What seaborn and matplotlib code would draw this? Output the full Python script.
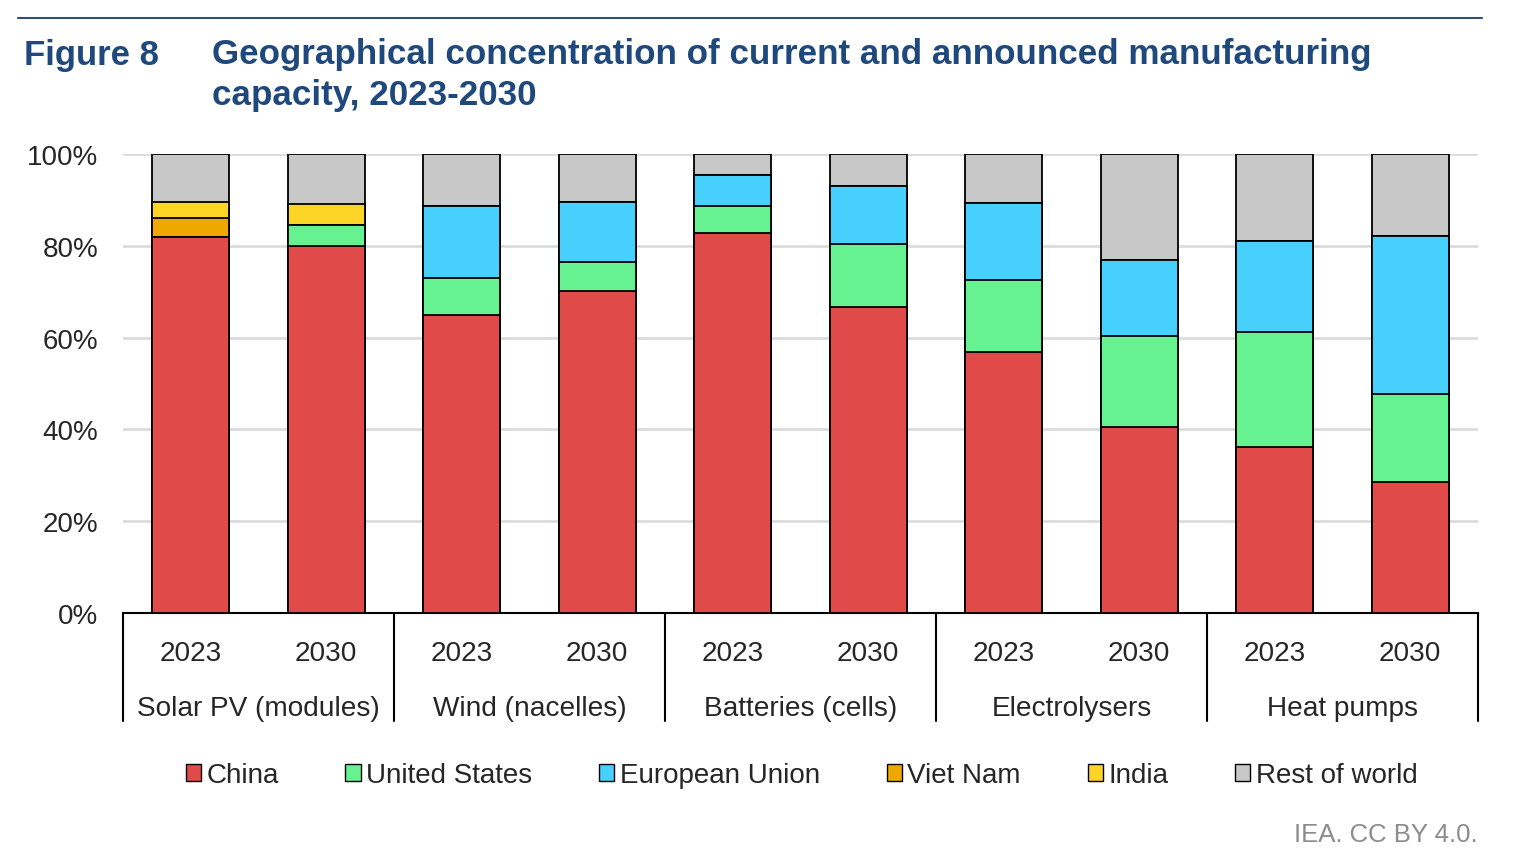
import numpy as np
import pandas as pd
import seaborn as sns
import matplotlib.pyplot as plt
from matplotlib.patches import Patch
from matplotlib.transforms import blended_transform_factory


categories = ["Solar PV (modules)", "Wind (nacelles)", "Batteries (cells)", "Electrolysers", "Heat pumps"]
years = ["2023", "2030"]

china = [82.0, 80.0, 65.0, 70.2, 82.7, 66.7, 56.9, 40.5, 36.2, 28.6]
united_states = [0.0, 4.6, 7.9, 6.2, 6.0, 13.7, 15.6, 19.9, 25.1, 19.1]
european_union = [0.0, 0.0, 15.8, 13.2, 6.7, 12.6, 16.8, 16.5, 19.7, 34.5]
viet_nam = [4.1, 0.0, 0.0, 0.0, 0.0, 0.0, 0.0, 0.0, 0.0, 0.0]
india = [3.5, 4.6, 0.0, 0.0, 0.0, 0.0, 0.0, 0.0, 0.0, 0.0]
rest_of_world = [10.4, 10.8, 11.3, 10.4, 4.6, 7.0, 10.7, 23.1, 19.0, 17.8]

regions = ["China", "United States", "European Union", "Viet Nam", "India", "Rest of world"]
colors = ["#E04A48", "#66F291", "#48D0FD", "#EFA800", "#FCD426", "#C8C8C8"]

TITLE_BLUE = "#1F497D"

bar_order = [f"{c} {y}" for c in categories for y in years]
shares = pd.DataFrame(
    {"China": china, "United States": united_states, "European Union": european_union,
     "Viet Nam": viet_nam, "India": india, "Rest of world": rest_of_world},
    index=bar_order,
)
tops = shares.cumsum(axis=1)

sns.set_style("white")
plt.rcParams["font.family"] = ["Liberation Sans", "DejaVu Sans"]

fig = plt.figure(figsize=(15.24, 8.62), dpi=100)
ax = fig.add_axes([123 / 1524, (862 - 614) / 862, (1478 - 123) / 1524, 459 / 862])

# draw cumulative heights from the top segment down so lower segments overlay
for region, col in reversed(list(zip(regions, colors))):
    d = pd.DataFrame({"bar": bar_order, "top": tops[region].values})
    sns.barplot(data=d, x="bar", y="top", order=bar_order, color=col, saturation=1,
                edgecolor="black", linewidth=1.3, width=0.57, errorbar=None, ax=ax, zorder=3)

ax.set_xlim(-0.5, 9.5)
ax.set_ylim(0, 100)
ax.set_yticks(np.arange(0, 101, 20))
ax.set_yticklabels([f"{v}%" for v in range(0, 101, 20)], fontsize=20)
ax.tick_params(axis="y", length=0, pad=18)
ax.yaxis.grid(True, color="#DCDCDC", linewidth=2, zorder=0)
ax.set_axisbelow(True)
ax.set_xlabel("")
ax.set_ylabel("")
for s in ["top", "right", "left"]:
    ax.spines[s].set_visible(False)
ax.spines["bottom"].set_color("black")
ax.spines["bottom"].set_linewidth(1.5)
ax.set_xticks([])

trans = blended_transform_factory(ax.transData, ax.transAxes)
for i, lab in enumerate(bar_order):
    ax.text(i, -0.088, lab.split()[-1], transform=trans, ha="center", va="center", fontsize=20.2)
for g, cat in enumerate(categories):
    ax.text(2 * g + 0.5, -0.206, cat, transform=trans, ha="center", va="center", fontsize=20.2)
for b in np.arange(-0.5, 10, 2):
    ax.plot([b, b], [0, -0.235], transform=trans, color="black", linewidth=1.5, clip_on=False)

handles = [Patch(facecolor=c, edgecolor="black", linewidth=1) for c in colors]
fig.legend(handles, regions, loc="center", bbox_to_anchor=(0.526, 1 - 776 / 862), ncol=6,
           frameon=False, fontsize=20, handlelength=0.55, handleheight=0.55,
           handletextpad=0.2, columnspacing=2.4)

# header
fig.add_artist(plt.Line2D([18 / 1524, 1482 / 1524], [1 - 19 / 862] * 2, color="#2E4F73", linewidth=1.5))
fig.text(24 / 1524, 1 - 55 / 862, "Figure 8", fontsize=25, fontweight="bold",
         color=TITLE_BLUE, ha="left", va="center")
fig.text(212 / 1524, 1 - 75 / 862,
         "Geographical concentration of current and announced manufacturing\ncapacity, 2023-2030",
         fontsize=25.2, fontweight="bold", color=TITLE_BLUE, ha="left", va="center", linespacing=1.28)

fig.text(1478 / 1524, 1 - 835 / 862, "IEA. CC BY 4.0.", fontsize=18.5, color="#8C8C8C",
         ha="right", va="center")

fig.savefig("out.png", dpi=100)
